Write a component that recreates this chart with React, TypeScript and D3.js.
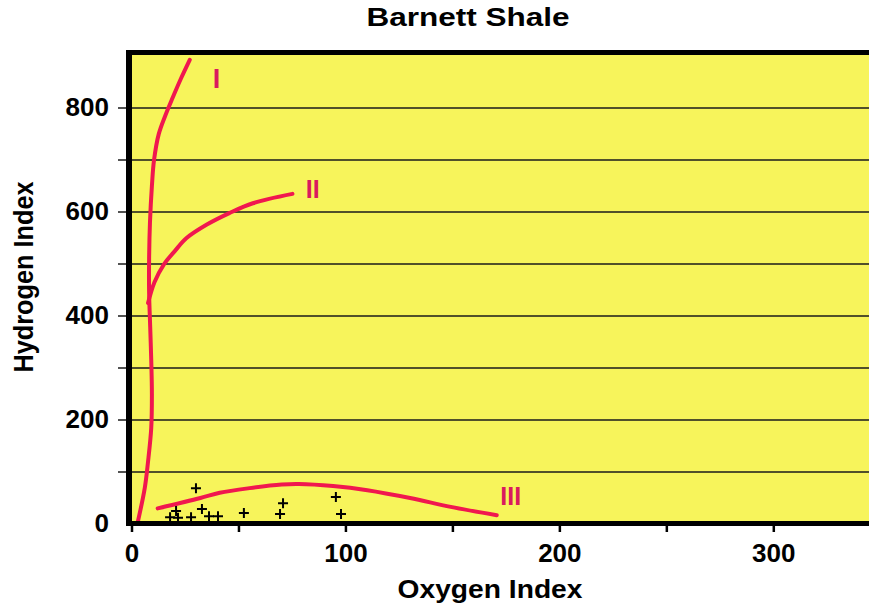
import React from "react";
import * as d3 from "d3";

const W = 869;
const H = 606;

const title = "Barnett Shale";
const xAxisTitle = "Oxygen Index";
const yAxisTitle = "Hydrogen Index";

const xTickValues = [0, 50, 100, 150, 200, 250, 300, 350];
const xTickLabels = [0, 100, 200, 300];
const yGridValues = [100, 200, 300, 400, 500, 600, 700, 800];
const yTickLabels = [0, 200, 400, 600, 800];

// Kerogen type curves (OI, HI)
const typeI: [number, number][] = [
  [2.5, 0], [6, 70], [7.5, 120], [9, 185], [9.3, 250], [9, 315], [8.5, 380],
  [8, 445], [8, 510], [8.4, 580], [9.3, 650], [10.3, 700], [12.5, 750],
  [15.5, 785], [19, 820], [23, 858], [27, 893],
];
const typeII: [number, number][] = [
  [7.5, 425], [10.5, 465], [15, 500], [20, 525], [25.5, 550], [35, 576],
  [45.5, 598], [56.5, 617], [75, 635],
];
const typeIII: [number, number][] = [
  [12, 30], [32, 50], [41, 60], [55, 69], [70, 76], [78, 77], [94, 73],
  [110, 65], [130, 50], [149, 33], [170.5, 17],
];

const curveLabels = ["I", "II", "III"];
const curveLabelPos: [number, number][] = [
  [39.5, 838], [84.5, 627], [177, 37],
];

// Barnett Shale samples (OI, HI)
const samplesOI = [29.9, 17.8, 20.6, 21.5, 27.6, 32.7, 36, 40.2, 52.3, 69.2, 70.6, 95.3, 97.7];
const samplesHI = [69, 13, 25, 12, 13, 29, 15, 15, 21, 19, 40, 52, 19];

const FONT = "'Liberation Sans', Arial, Helvetica, sans-serif";

export default function App() {
  const x = d3.scaleLinear().domain([-1.4, 344.5]).range([129, 869]);
  const y = d3.scaleLinear().domain([0, 907]).range([524, 52.5]);

  const line = d3
    .line<[number, number]>()
    .x((d) => x(d[0]))
    .y((d) => y(d[1]))
    .curve(d3.curveCatmullRom.alpha(0.5));

  const x0 = x.range()[0];
  const x1 = x.range()[1];
  const yTop = y.range()[1];
  const yBot = y.range()[0];

  const curveColor = "#f0174f";
  const labelColor = "#d91a5e";

  return (
    <svg
      width={W}
      height={H}
      style={{ position: "absolute", left: 0, top: 0, background: "#fff" }}
      fontFamily={FONT}
    >
      <rect x={0} y={0} width={W} height={H} fill="#ffffff" />
      <text
        x={468}
        y={26}
        textAnchor="middle"
        fontSize={25}
        fontWeight="bold"
        textLength={203}
        lengthAdjust="spacingAndGlyphs"
      >
        {title}
      </text>

      {/* plot background */}
      <rect x={x0} y={yTop} width={x1 - x0} height={yBot - yTop} fill="#f7f45b" />

      {/* gridlines + y ticks */}
      {yGridValues.map((v) => (
        <line
          key={"g" + v}
          x1={118}
          x2={x1}
          y1={y(v)}
          y2={y(v)}
          stroke="#1a1a1a"
          strokeWidth={1.5}
        />
      ))}

      {/* curves */}
      {[typeI, typeII, typeIII].map((c, i) => (
        <path
          key={"c" + i}
          d={line(c) || ""}
          fill="none"
          stroke={curveColor}
          strokeWidth={4}
          strokeLinecap="round"
          strokeLinejoin="round"
        />
      ))}
      {curveLabels.map((t, i) => (
        <text
          key={"l" + t}
          x={x(curveLabelPos[i][0])}
          y={y(curveLabelPos[i][1])}
          textAnchor="middle"
          fontSize={i === 0 ? 27 : 25}
          fontWeight="bold"
          fill={labelColor}
        >
          {t}
        </text>
      ))}

      {/* samples */}
      {samplesOI.map((o, i) => (
        <path
          key={"s" + i}
          transform={`translate(${x(o)},${y(samplesHI[i])})`}
          d="M-5,0H5M0,-5V5"
          stroke="#000"
          strokeWidth={2}
          fill="none"
        />
      ))}

      {/* frame */}
      <line x1={126} x2={x1} y1={52.5} y2={52.5} stroke="#000" strokeWidth={5} />
      <line x1={129} x2={129} y1={50} y2={526} stroke="#000" strokeWidth={6} />
      <line x1={126} x2={x1} y1={523.5} y2={523.5} stroke="#000" strokeWidth={5} />

      {/* x ticks */}
      {xTickValues.map((v) => (
        <line
          key={"xt" + v}
          x1={x(v)}
          x2={x(v)}
          y1={524}
          y2={532}
          stroke="#000"
          strokeWidth={2.5}
        />
      ))}
      {xTickLabels.map((v) => (
        <text
          key={"xl" + v}
          x={x(v)}
          y={562}
          textAnchor="middle"
          fontSize={26}
          fontWeight="bold"
        >
          {v}
        </text>
      ))}
      {yTickLabels.map((v) => (
        <text
          key={"yl" + v}
          x={109}
          y={y(v) + 8}
          textAnchor="end"
          fontSize={26}
          fontWeight="bold"
        >
          {v}
        </text>
      ))}

      <text
        x={490}
        y={598}
        textAnchor="middle"
        fontSize={25}
        fontWeight="bold"
        textLength={185}
        lengthAdjust="spacingAndGlyphs"
      >
        {xAxisTitle}
      </text>
      <text
        transform={`translate(33,277) rotate(-90)`}
        textAnchor="middle"
        fontSize={27}
        fontWeight="bold"
        textLength={191}
        lengthAdjust="spacingAndGlyphs"
      >
        {yAxisTitle}
      </text>
    </svg>
  );
}
